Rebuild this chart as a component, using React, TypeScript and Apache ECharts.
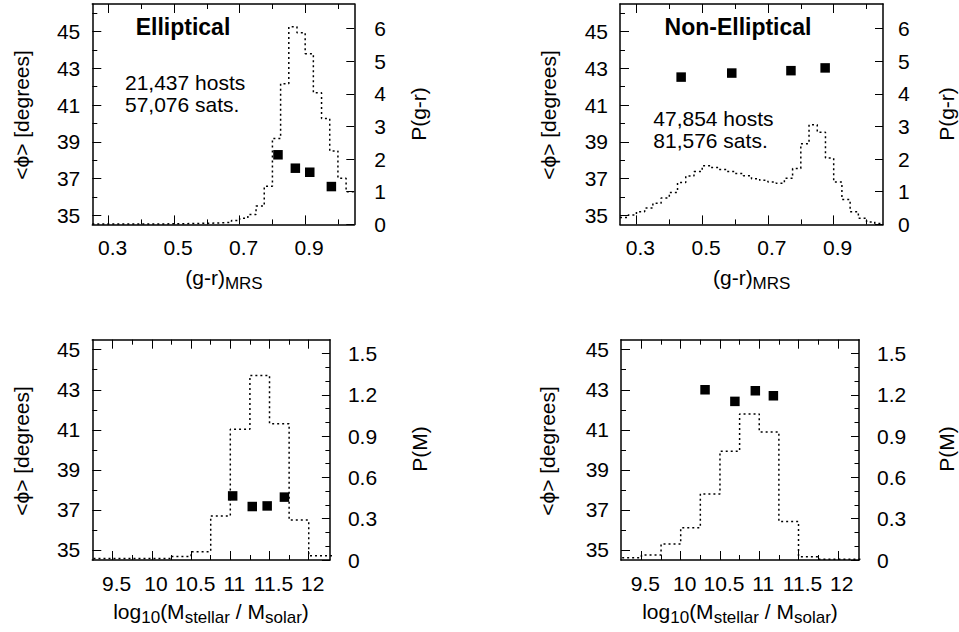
import React, { useEffect, useRef } from "react";
import * as echarts from "echarts";

// ---------- data ----------
const grEdges = [0.25, 0.275, 0.3, 0.325, 0.35, 0.375, 0.4, 0.425, 0.45, 0.475, 0.5, 0.525, 0.55, 0.575, 0.6, 0.625, 0.65, 0.675, 0.7, 0.725, 0.75, 0.775, 0.8, 0.825, 0.85, 0.875, 0.9, 0.925, 0.95, 0.975, 1.0, 1.025, 1.05];
const ellGrHist = [0.01, 0.01, 0.01, 0.01, 0.01, 0.01, 0.01, 0.015, 0.015, 0.02, 0.02, 0.025, 0.03, 0.035, 0.04, 0.05, 0.06, 0.12, 0.19, 0.3, 0.56, 1.17, 2.63, 4.31, 6.05, 5.87, 5.23, 4.03, 3.24, 2.25, 1.41, 1.0];
const nonGrHist = [0.21, 0.29, 0.39, 0.5, 0.65, 0.81, 0.98, 1.28, 1.48, 1.62, 1.8, 1.74, 1.68, 1.62, 1.56, 1.49, 1.4, 1.35, 1.3, 1.26, 1.41, 1.71, 2.47, 3.05, 2.82, 2.03, 1.3, 0.76, 0.39, 0.19, 0.07, 0.03];

const massEdges = [9.0, 9.25, 9.5, 9.75, 10.0, 10.25, 10.5, 10.75, 11.0, 11.25, 11.5, 11.75, 12.0, 12.25, 12.5];
const ellMassHist = [0.01, 0.01, 0.01, 0.01, 0.01, 0.025, 0.06, 0.32, 0.95, 1.34, 0.99, 0.29, 0.03, 0.03];
const nonMassHist = [0.017, 0.017, 0.036, 0.116, 0.234, 0.48, 0.79, 1.06, 0.93, 0.28, 0.024, 0.006, 0.005, 0.005];

const ellGrX = [0.817, 0.87, 0.914, 0.98];
const ellGrPhi = [38.29, 37.56, 37.34, 36.56];
const nonGrX = [0.436, 0.59, 0.77, 0.874];
const nonGrPhi = [42.52, 42.74, 42.87, 43.02];
const ellMassX = [11.03, 11.28, 11.47, 11.69];
const ellMassPhi = [37.7, 37.17, 37.2, 37.64];
const nonMassX = [10.31, 10.69, 10.95, 11.18];
const nonMassPhi = [43.0, 42.42, 42.95, 42.7];

const phiMajorTicks = [35, 37, 39, 41, 43, 45];
const phiMinorTicksTop = [36, 38, 40, 42, 44, 46];
const phiMinorTicksBottom = [36, 38, 40, 42, 44];
const grMajorTicks = [0.3, 0.5, 0.7, 0.9];
const grMinorTicks = [0.4, 0.6, 0.8, 1.0];
const pgrTicks = [0, 1, 2, 3, 4, 5, 6];
const massMajorTicks = [9.5, 10, 10.5, 11, 11.5, 12];
const massMinorTicks = [9.75, 10.25, 10.75, 11.25, 11.75];
const pmMajorTicks = [0, 0.3, 0.6, 0.9, 1.2, 1.5];
const pmMinorTicks = [0.1, 0.2, 0.4, 0.5, 0.7, 0.8, 1.0, 1.1, 1.3, 1.4];

const FF = '"Liberation Sans", Arial, Helvetica, sans-serif';

// ---------- helpers ----------
const lineStyle = { color: "#000", width: 1.5 };
const tickStyle = { color: "#000", width: 1 };

function xAxesFor(gridIndex: number, min: number, max: number, major: number[], minor: number[]) {
  const c = { type: "value", gridIndex, min, max, splitLine: { show: false } };
  return [
    {
      ...c, position: "bottom",
      axisLine: { show: true, onZero: false, lineStyle },
      axisTick: { show: true, inside: true, length: 9, customValues: major, lineStyle: tickStyle },
      axisLabel: { show: true, customValues: major, margin: 13, color: "#000", fontSize: 21, fontFamily: FF, padding: [0, 0, 0, 8] },
    },
    {
      ...c, position: "bottom",
      axisLine: { show: false, onZero: false },
      axisTick: { show: true, inside: true, length: 5, customValues: minor, lineStyle: tickStyle },
      axisLabel: { show: false },
    },
    {
      ...c, position: "top",
      axisLine: { show: true, onZero: false, lineStyle },
      axisTick: { show: true, inside: true, length: 9, customValues: major, lineStyle: tickStyle },
      axisLabel: { show: false },
    },
    {
      ...c, position: "top",
      axisLine: { show: false, onZero: false },
      axisTick: { show: true, inside: true, length: 5, customValues: minor, lineStyle: tickStyle },
      axisLabel: { show: false },
    },
  ];
}

function yAxesFor(
  gridIndex: number,
  lmin: number, lmax: number, lMajor: number[], lMinor: number[],
  rmin: number, rmax: number, rMajor: number[], rMinor: number[], rMargin: number
) {
  const cl = { type: "value", gridIndex, min: lmin, max: lmax, splitLine: { show: false } };
  const cr = { type: "value", gridIndex, min: rmin, max: rmax, splitLine: { show: false } };
  const axes: any[] = [
    {
      ...cl, position: "left",
      axisLine: { show: true, onZero: false, lineStyle },
      axisTick: { show: true, inside: true, length: 9, customValues: lMajor, lineStyle: tickStyle },
      axisLabel: { show: true, customValues: lMajor, margin: 12, color: "#000", fontSize: 21, fontFamily: FF },
    },
    {
      ...cl, position: "left",
      axisLine: { show: false, onZero: false },
      axisTick: { show: true, inside: true, length: 5, customValues: lMinor, lineStyle: tickStyle },
      axisLabel: { show: false },
    },
    {
      ...cr, position: "right",
      axisLine: { show: true, onZero: false, lineStyle },
      axisTick: { show: true, inside: true, length: 8, customValues: rMajor, lineStyle: tickStyle },
      axisLabel: { show: true, customValues: rMajor, margin: rMargin, color: "#000", fontSize: 21, fontFamily: FF },
    },
  ];
  if (rMinor.length) {
    axes.push({
      ...cr, position: "right",
      axisLine: { show: false, onZero: false },
      axisTick: { show: true, inside: true, length: 4.5, customValues: rMinor, lineStyle: tickStyle },
      axisLabel: { show: false },
    });
  }
  return axes;
}

function stepData(edges: number[], hist: number[]) {
  return edges.map((e, i) => [e, hist[Math.min(i, hist.length - 1)]]);
}

function zip(xs: number[], ys: number[]) {
  return xs.map((x, i) => [x, ys[i]]);
}

function text(x: number, y: number, t: string, extra: any = {}) {
  return {
    type: "text", x, y, rotation: extra.rotation || 0,
    style: {
      text: t, fill: "#000", fontSize: extra.fontSize || 21, fontFamily: FF,
      fontWeight: extra.fontWeight || "normal",
      align: extra.align || "center", verticalAlign: "middle",
      rich: extra.rich,
    },
  };
}

const subRich = { sub: { fontSize: 17, fontFamily: FF, fill: "#000", padding: [12, 0, 0, 0] } };

export default function App() {
  const ref = useRef<HTMLDivElement>(null);
  useEffect(() => {
    if (!ref.current) return;
    const chart = echarts.init(ref.current, undefined, { renderer: "svg" });

    const grids = [
      { left: 92.3, top: 4, width: 262, height: 220.4 },
      { left: 620, top: 4, width: 263, height: 220.4 },
      { left: 92.3, top: 339.7, width: 237.6, height: 220.3 },
      { left: 621, top: 339.7, width: 238, height: 220.3 },
    ].map((g) => ({ ...g, containLabel: false, outerBoundsMode: "none", show: false }));

    const xAxis: any[] = [
      ...xAxesFor(0, 0.25, 1.05, grMajorTicks, grMinorTicks),
      ...xAxesFor(1, 0.25, 1.05, grMajorTicks, grMinorTicks),
      ...xAxesFor(2, 9.24, 12.27, massMajorTicks, massMinorTicks),
      ...xAxesFor(3, 9.24, 12.27, massMajorTicks, massMinorTicks),
    ];
    const y0 = yAxesFor(0, 34.5, 46.5, phiMajorTicks, phiMinorTicksTop, 0, 6.75, pgrTicks, [], 20);
    const y1 = yAxesFor(1, 34.5, 46.5, phiMajorTicks, phiMinorTicksTop, 0, 6.75, pgrTicks, [], 15);
    const y2 = yAxesFor(2, 34.5, 45.5, phiMajorTicks, phiMinorTicksBottom, 0, 1.6, pmMajorTicks, pmMinorTicks, 18);
    const y3 = yAxesFor(3, 34.5, 45.5, phiMajorTicks, phiMinorTicksBottom, 0, 1.6, pmMajorTicks, pmMinorTicks, 18);
    const yAxis: any[] = [...y0, ...y1, ...y2, ...y3];
    const yStart = [0, y0.length, y0.length + y1.length, y0.length + y1.length + y2.length];

    const panels = [
      { edges: grEdges, hist: ellGrHist, px: ellGrX, py: ellGrPhi },
      { edges: grEdges, hist: nonGrHist, px: nonGrX, py: nonGrPhi },
      { edges: massEdges, hist: ellMassHist, px: ellMassX, py: ellMassPhi },
      { edges: massEdges, hist: nonMassHist, px: nonMassX, py: nonMassPhi },
    ];

    const series: any[] = [];
    panels.forEach((p, i) => {
      series.push({
        type: "line", xAxisIndex: i * 4, yAxisIndex: yStart[i] + 2,
        data: stepData(p.edges, p.hist), step: "end", showSymbol: false, symbol: "none",
        lineStyle: { color: "#000", width: 1.5, type: [2, 3] }, clip: true, z: 2,
      });
      series.push({
        type: "scatter", xAxisIndex: i * 4, yAxisIndex: yStart[i],
        data: zip(p.px, p.py), symbol: "rect", symbolSize: 9.5,
        itemStyle: { color: "#000", opacity: 1 }, z: 3,
      });
    });

    const graphic: any[] = [
      text(183, 26.5, "Elliptical", { fontWeight: "bold", fontSize: 23 }),
      text(125, 82, "21,437 hosts", { align: "left" }),
      text(125, 104.5, "57,076 sats.", { align: "left" }),
      text(738, 27, "Non-Elliptical", { fontWeight: "bold", fontSize: 23 }),
      text(653.3, 118, "47,854 hosts", { align: "left" }),
      text(653.3, 140, "81,576 sats.", { align: "left" }),

      text(21.7, 115, "<ϕ> [degrees]", { rotation: Math.PI / 2 }),
      text(548.3, 115, "<ϕ> [degrees]", { rotation: Math.PI / 2 }),
      text(21.7, 451, "<ϕ> [degrees]", { rotation: Math.PI / 2 }),
      text(547.5, 451, "<ϕ> [degrees]", { rotation: Math.PI / 2 }),

      text(418.3, 114, "P(g-r)", { rotation: Math.PI / 2 }),
      text(946.7, 114, "P(g-r)", { rotation: Math.PI / 2 }),
      text(419, 449, "P(M)", { rotation: Math.PI / 2 }),
      text(946.7, 449, "P(M)", { rotation: Math.PI / 2 }),

      text(224, 277, "(g-r){sub|MRS}", { rich: subRich }),
      text(751.7, 277, "(g-r){sub|MRS}", { rich: subRich }),
      text(211, 611, "log{sub|10}(M{sub|stellar} / M{sub|solar})", { rich: subRich }),
      text(740, 611, "log{sub|10}(M{sub|stellar} / M{sub|solar})", { rich: subRich }),
    ];

    chart.setOption({
      animation: false,
      backgroundColor: "#fff",
      grid: grids,
      xAxis,
      yAxis,
      series,
      graphic,
    });
    return () => chart.dispose();
  }, []);
  return (
    <div
      ref={ref}
      style={{ position: "absolute", left: 0, top: 0, width: 959, height: 632, background: "#fff" }}
    />
  );
}
